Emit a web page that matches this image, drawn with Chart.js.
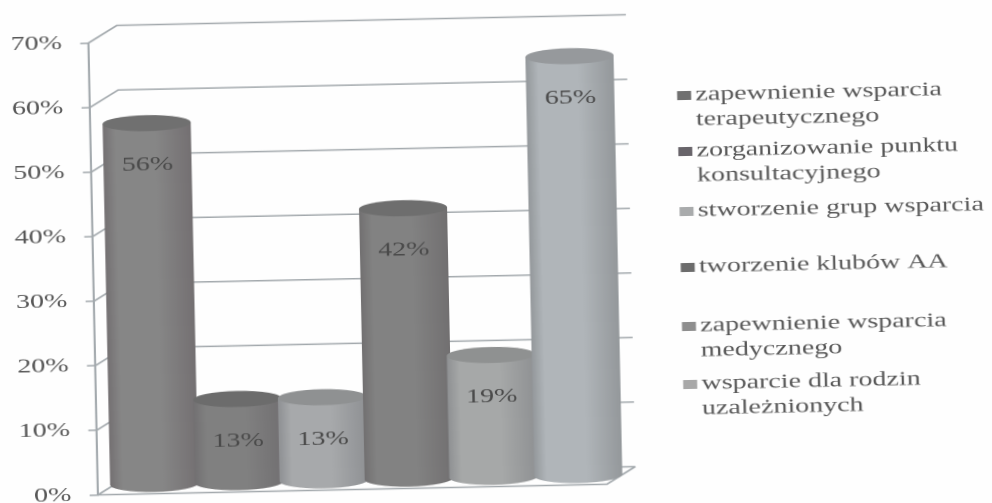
<!DOCTYPE html>
<html>
<head>
<meta charset="utf-8">
<style>
  html, body { margin: 0; background: #fefefe; overflow: hidden; }
  /* the scan is stretched sideways and a little tilted */
  #chart {
    position: absolute; left: 0; top: 0;
    transform-origin: 0 0;
    transform: translate(496px, 251.5px) rotate(-1.2deg) translate(-496px, -251.5px) scaleX(1.4);
    filter: blur(0.55px);
  }
</style>
<script src="https://cdn.jsdelivr.net/npm/chart.js@4"></script>
</head>
<body>
<canvas id="chart" width="709" height="503"></canvas>
<script>
const categories = [
  ['zapewnienie wsparcia', 'terapeutycznego'],
  ['zorganizowanie punktu', 'konsultacyjnego'],
  ['stworzenie grup wsparcia'],
  ['tworzenie klubów AA'],
  ['zapewnienie wsparcia', 'medycznego'],
  ['wsparcie dla rodzin', 'uzależnionych']
];
const values = [56, 13, 13, 42, 19, 65];
const yTicks = [0, 10, 20, 30, 40, 50, 60, 70];

const bodyColors = ['#868686', '#808080', '#a7a9ab', '#828282', '#a6a8a8', '#b0b5b9'];
const edgeColors = ['#747072', '#727072', '#8f9194', '#727071', '#8f9193', '#94989b'];
const capColors = ['#707070', '#6c6c6c', '#8f9192', '#6e6e6e', '#8f9191', '#96999c'];
const legendColors = ['#707070', '#68646a', '#a9abac', '#6c6c6c', '#8e8e8e', '#a8a8a8'];
const legendRowY = [99, 155, 215, 271, 330, 388];

const lineColor = '#a3a9ad';
const textColor = '#575757';
const serif = '"Liberation Serif", serif';
const depth = { x: 20.5, y: 17 };
const barShift = { x: 10, y: -9 };
const capRy = 8;

function drawWalls(chart) {
  const { ctx, chartArea: area, scales: { y } } = chart;
  ctx.save();
  ctx.strokeStyle = lineColor;
  ctx.lineWidth = 1.5;
  yTicks.forEach((tick) => {
    const py = y.getPixelForValue(tick);
    ctx.beginPath();
    ctx.moveTo(area.left, py);
    ctx.lineTo(area.left + depth.x, py - depth.y);
    ctx.lineTo(area.right + depth.x, py - depth.y);
    ctx.stroke();
  });
  ctx.beginPath();
  ctx.moveTo(area.left, area.bottom);
  ctx.lineTo(area.right, area.bottom);
  ctx.lineTo(area.right + depth.x, area.bottom - depth.y);
  ctx.stroke();
  ctx.restore();
}

function drawCylinders(chart) {
  const { ctx } = chart;
  chart.getDatasetMeta(0).data.forEach((bar, i) => {
    const cx = bar.x + barShift.x;
    const top = bar.y + barShift.y;
    const bottom = bar.base + barShift.y;
    const rx = bar.width / 2;
    const body = ctx.createLinearGradient(cx - rx, 0, cx + rx, 0);
    body.addColorStop(0, edgeColors[i]);
    body.addColorStop(0.14, bodyColors[i]);
    body.addColorStop(0.6, bodyColors[i]);
    body.addColorStop(1, edgeColors[i]);
    ctx.save();
    ctx.fillStyle = body;
    ctx.beginPath();
    ctx.moveTo(cx - rx, top);
    ctx.lineTo(cx - rx, bottom);
    ctx.ellipse(cx, bottom, rx, capRy, 0, Math.PI, 0, true);
    ctx.lineTo(cx + rx, top);
    ctx.closePath();
    ctx.fill();
    ctx.fillStyle = capColors[i];
    ctx.beginPath();
    ctx.ellipse(cx, top, rx, capRy, 0, 0, Math.PI * 2);
    ctx.fill();
    ctx.fillStyle = '#4a4a4a';
    ctx.font = `20px ${serif}`;
    ctx.textAlign = 'center';
    ctx.textBaseline = 'middle';
    ctx.fillText(`${values[i]}%`, cx, top + 42);
    ctx.restore();
  });
}

function drawLegend(chart) {
  const { ctx } = chart;
  ctx.save();
  ctx.font = `20px ${serif}`;
  ctx.textBaseline = 'middle';
  categories.forEach((lines, i) => {
    ctx.fillStyle = legendColors[i];
    ctx.fillRect(486, legendRowY[i] - 4, 10, 9);
    ctx.fillStyle = textColor;
    lines.forEach((line, n) => ctx.fillText(line, 499, legendRowY[i] + n * 25));
  });
  ctx.restore();
}

const cylinders = {
  id: 'cylinders',
  beforeDatasetsDraw(chart) {
    drawWalls(chart);
    drawCylinders(chart);
    drawLegend(chart);
    return false;
  }
};

new Chart(document.getElementById('chart'), {
  type: 'bar',
  data: {
    labels: categories.map((lines) => lines.join(' ')),
    datasets: [{ data: values, backgroundColor: bodyColors, barThickness: 63 }]
  },
  options: {
    responsive: false,
    maintainAspectRatio: false,
    animation: false,
    devicePixelRatio: 2,
    layout: { padding: { top: 34.5, bottom: 16.5, right: 279, left: 0 } },
    plugins: { legend: { display: false }, tooltip: { enabled: false } },
    scales: {
      x: { display: false },
      y: {
        min: 0,
        max: 70,
        afterFit: (scale) => {
          scale.width = 66.4;
          // 0% sits right at the bottom edge, so no room is kept for the label overhang
          scale.paddingTop = 0;
          scale.paddingBottom = 0;
        },
        ticks: {
          stepSize: 10,
          padding: 13,
          color: textColor,
          font: { family: serif, size: 20 },
          callback: (value) => `${value}%`
        },
        grid: { drawOnChartArea: false, tickLength: 6, color: lineColor, lineWidth: 1.5 },
        border: { color: lineColor, width: 1.5 }
      }
    }
  },
  plugins: [cylinders]
});
</script>
</body>
</html>
